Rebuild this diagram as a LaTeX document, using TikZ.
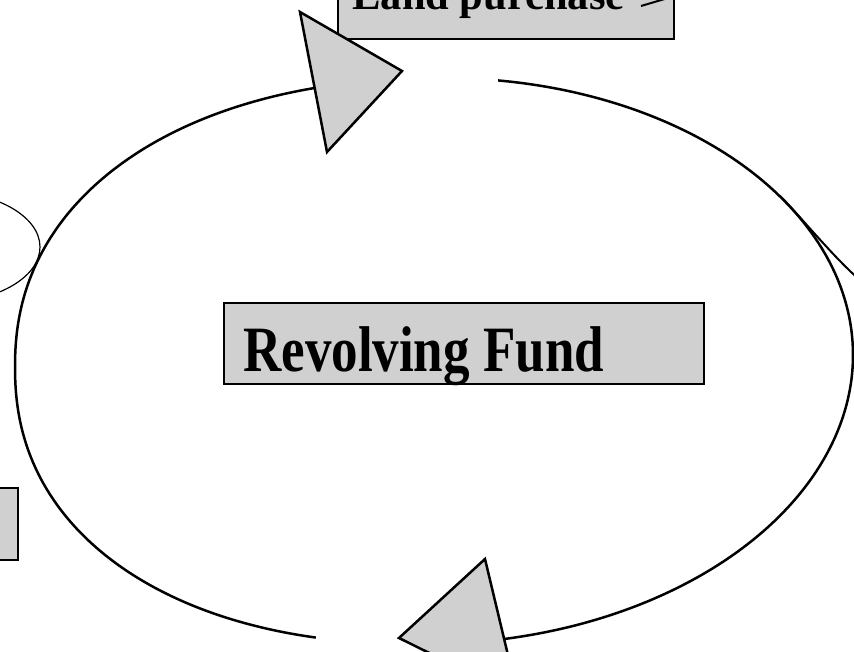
\documentclass[tikz,border=0pt]{standalone}
\usepackage{fontspec}
\setmainfont{Liberation Serif}
\usepackage{graphicx}
\begin{document}
\begin{tikzpicture}[x=1pt,y=-1pt,
  declare function={
    QQ(\t)=(cos(\t)<0)*(-0.0909);
    CX(\t)=cos(\t)*(abs(cos(\t))+0.0001)^(QQ(\t));
    SX(\t)=434+419*CX(\t);
    SY(\t)=361+283*sin(\t)*(abs(sin(\t))+0.0001)^(QQ(\t))-0.0143*419*CX(\t);
  }]
\definecolor{boxgrey}{RGB}{208,208,208}
\tikzset{
  greybox/.style={draw=black, fill=boxgrey, line width=2pt, inner sep=0pt},
  cycleline/.style={line width=2.5pt},
  thinline/.style={line width=1.2pt},
  sideline/.style={line width=2pt},
  arrowtri/.style={draw=black, fill=boxgrey, line width=2.5pt, line join=miter},
  lbl/.style={inner sep=0pt, font=\bfseries}
}
\useasboundingbox (0,0) rectangle (854,652);
\clip (0,0) rectangle (854,652);
\fill[white] (0,0) rectangle (854,652);

% small ellipse on the left and curve on the right
\draw[thinline] (-60,247) ellipse [x radius=100, y radius=56];
\coordinate (rc1) at (780,196);
\coordinate (rc2) at (860,280);
\draw[sideline] (rc1) .. controls (800,216) and (836,260) .. (rc2);

% the revolving cycle
\draw[cycleline, variable=\t, samples=90, smooth] plot[domain=104.4:256] ({SX(\t)},{SY(\t)});
\draw[cycleline, variable=\t, samples=90, smooth] plot[domain=278.8:442] ({SX(\t)},{SY(\t)});

% boxes
\node[greybox, minimum width=336pt, minimum height=78pt, anchor=north west] (lp) at (337,-40) {};
\node[lbl, anchor=base] (lpt) at (488.5,9.5) {\fontsize{42.5}{48}\selectfont Land purchase};
\draw[sideline] (641,6) -- (668,-2);

\node[greybox, minimum width=57pt, minimum height=72pt, anchor=north west] (lb) at (-40,487) {};

\node[greybox, minimum width=480pt, minimum height=81pt, anchor=north west] (rf) at (223,302) {};
\node[lbl, anchor=base west] (rft) at (243,371) {\scalebox{1}[1.22]{\fontsize{53}{60}\selectfont Revolving Fund}};

% arrowheads
\coordinate (ta1) at (300,12);
\coordinate (ta2) at (402,71);
\coordinate (ta3) at (327,152);
\draw[arrowtri] (ta1) -- (ta2) -- (ta3) -- cycle;
\coordinate (ba1) at (485,559);
\coordinate (ba2) at (399,638);
\coordinate (ba3) at (518,697);
\draw[arrowtri] (ba1) -- (ba2) -- (ba3) -- cycle;
\end{tikzpicture}
\end{document}
